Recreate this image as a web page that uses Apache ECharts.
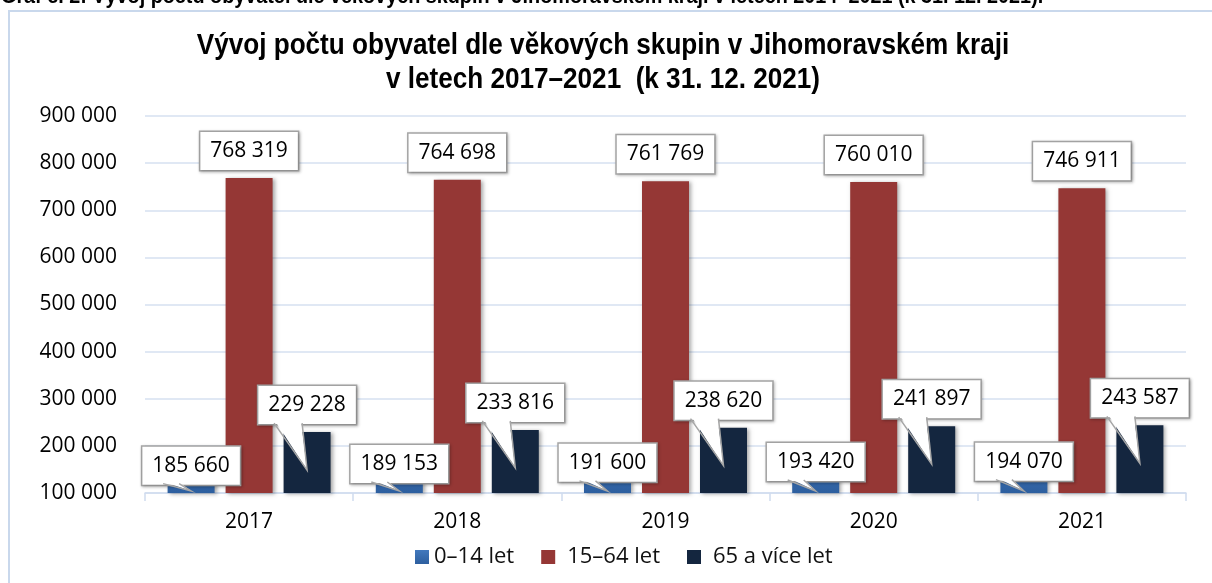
<!DOCTYPE html>
<html>
<head>
<meta charset="utf-8">
<script src="https://cdn.jsdelivr.net/npm/echarts@6/dist/echarts.min.js"></script>
<style>
  html, body { margin: 0; padding: 0; background: #fff; }
  #chart { width: 1212px; height: 583px; }
</style>
</head>
<body>
<div id="chart"></div>
<script>
// data
const years = ['2017', '2018', '2019', '2020', '2021']
const seriesNames = ['0–14 let', '15–64 let', '65 a více let']
const young = [185660, 189153, 191600, 193420, 194070]
const working = [768319, 764698, 761769, 760010, 746911]
const senior = [229228, 233816, 238620, 241897, 243587]
const yMin = 100000
const yMax = 900000
const yStep = 100000

const labelFont = "'Open Sans', 'Noto Sans', sans-serif"
const headFont = "'Liberation Sans', Arial, sans-serif"
const fmt = v => String(v).replace(/\B(?=(\d{3})+(?!\d))/g, ' ')

const chart = echarts.init(document.getElementById('chart'))

const callout = {
  show: true,
  formatter: p => fmt(p.value),
  fontFamily: labelFont,
  fontSize: 21,
  lineHeight: 24,
  color: '#000',
  backgroundColor: '#fff',
  borderColor: '#a6a6a6',
  borderWidth: 1.5,
  padding: [7, 10],
  shadowColor: 'rgba(0,0,0,0.25)',
  shadowBlur: 3,
  shadowOffsetX: 1,
  shadowOffsetY: 1
}

const barShadow = {
  shadowColor: 'rgba(0,0,0,0.35)',
  shadowBlur: 4,
  shadowOffsetX: 2,
  shadowOffsetY: 1
}

// tails of the callouts (blue -> down-right to the base, navy -> into the bar)
const tailData = []
young.forEach((v, i) => tailData.push([i, v, 0]))
senior.forEach((v, i) => tailData.push([i, v, 2]))

function renderTail(params, api) {
  const pt = api.coord([api.value(0), api.value(1)])
  const base = api.coord([api.value(0), yMin])
  const kind = api.value(2)
  let pts
  if (kind === 0) {
    const bx = pt[0] - 58
    const by = pt[1] + 31
    pts = [[bx - 28, by], [bx, base[1] - 2], [bx - 12, by]]
  } else {
    const nx = pt[0] + 58
    const ny = pt[1] - 9
    pts = [[nx - 33, ny], [nx, pt[1] + 38], [nx - 5, ny]]
  }
  const fillPts = [[pts[0][0] + 1, pts[0][1] - 2], pts[1], [pts[2][0] - 1, pts[2][1] - 2]]
  return {
    type: 'group',
    children: [
      { type: 'polygon', shape: { points: fillPts }, style: { fill: '#fff', stroke: null } },
      { type: 'polyline', shape: { points: pts }, style: { stroke: '#a6a6a6', lineWidth: 1.5, fill: null } }
    ]
  }
}

const option = {
  animation: false,
  backgroundColor: '#fff',
  graphic: [
    {
      type: 'rect',
      shape: { x: 9, y: 11, width: 1400, height: 800 },
      style: { fill: null, stroke: '#c9d8ec', lineWidth: 2 },
      silent: true
    },
    {
      type: 'text',
      x: 1,
      y: -14,
      scaleX: 0.9,
      style: {
        text: 'Graf č. 2: Vývoj počtu obyvatel dle věkových skupin v Jihomoravském kraji v letech 2014–2021 (k 31. 12. 2021).',
        font: 'bold 22px ' + headFont,
        fill: '#000'
      }
    },
    {
      type: 'text',
      x: 603,
      y: 29,
      scaleX: 0.9,
      style: {
        text: 'Vývoj počtu obyvatel dle věkových skupin v Jihomoravském kraji\nv letech 2017–2021  (k 31. 12. 2021)',
        font: 'bold 29px ' + headFont,
        lineHeight: 34,
        textAlign: 'center',
        fill: '#000'
      }
    }
  ],
  legend: {
    data: [
      { name: seriesNames[0] },
      { name: seriesNames[1], textStyle: { padding: [0, 0, 0, 7] } },
      { name: seriesNames[2], textStyle: { padding: [0, 0, 0, 7] } }
    ],
    left: 410,
    top: 541,
    itemWidth: 14,
    itemHeight: 14,
    itemGap: 27,
    icon: 'rect',
    textStyle: { fontFamily: labelFont, fontSize: 22, color: '#111' }
  },
  grid: { left: 145, right: 26, top: 116, bottom: 90 },
  xAxis: {
    type: 'category',
    data: years,
    axisLine: { lineStyle: { color: '#d0dcee', width: 1.5 } },
    axisTick: { show: true, length: 8, lineStyle: { color: '#d0dcee', width: 1.5 } },
    axisLabel: { fontFamily: labelFont, fontSize: 21, color: '#000', margin: 19 }
  },
  yAxis: {
    type: 'value',
    min: yMin,
    max: yMax,
    interval: yStep,
    axisLine: { show: false },
    axisTick: { show: false },
    axisLabel: { fontFamily: labelFont, fontSize: 21, color: '#000', margin: 28, formatter: v => fmt(v) },
    splitLine: { lineStyle: { color: '#d6e1f1', width: 1.5 } }
  },
  series: [
    {
      name: seriesNames[0],
      type: 'bar',
      data: young,
      barWidth: 47,
      barGap: '23.4%',
      itemStyle: Object.assign({
        color: new echarts.graphic.LinearGradient(0, 0, 0, 1, [
          { offset: 0, color: '#4279bd' },
          { offset: 1, color: '#2d5f9f' }
        ])
      }, barShadow),
      label: Object.assign({}, callout, { position: 'insideTop', distance: 5, offset: [0, -11] }),
      z: 2
    },
    {
      name: seriesNames[1],
      type: 'bar',
      data: working,
      barWidth: 47,
      barGap: '23.4%',
      itemStyle: Object.assign({ color: '#953735' }, barShadow),
      label: Object.assign({}, callout, { position: 'top', distance: 8 }),
      z: 2
    },
    {
      name: seriesNames[2],
      type: 'bar',
      data: senior,
      barWidth: 47,
      barGap: '23.4%',
      itemStyle: Object.assign({ color: '#14263f' }, barShadow),
      label: Object.assign({}, callout, { position: 'top', distance: 8 }),
      z: 2
    },
    {
      type: 'custom',
      data: tailData,
      renderItem: renderTail,
      encode: { x: 0, y: 1 },
      silent: true,
      z: 10
    }
  ]
}

chart.setOption(option)
window.addEventListener('resize', () => chart.resize())
</script>
</body>
</html>
